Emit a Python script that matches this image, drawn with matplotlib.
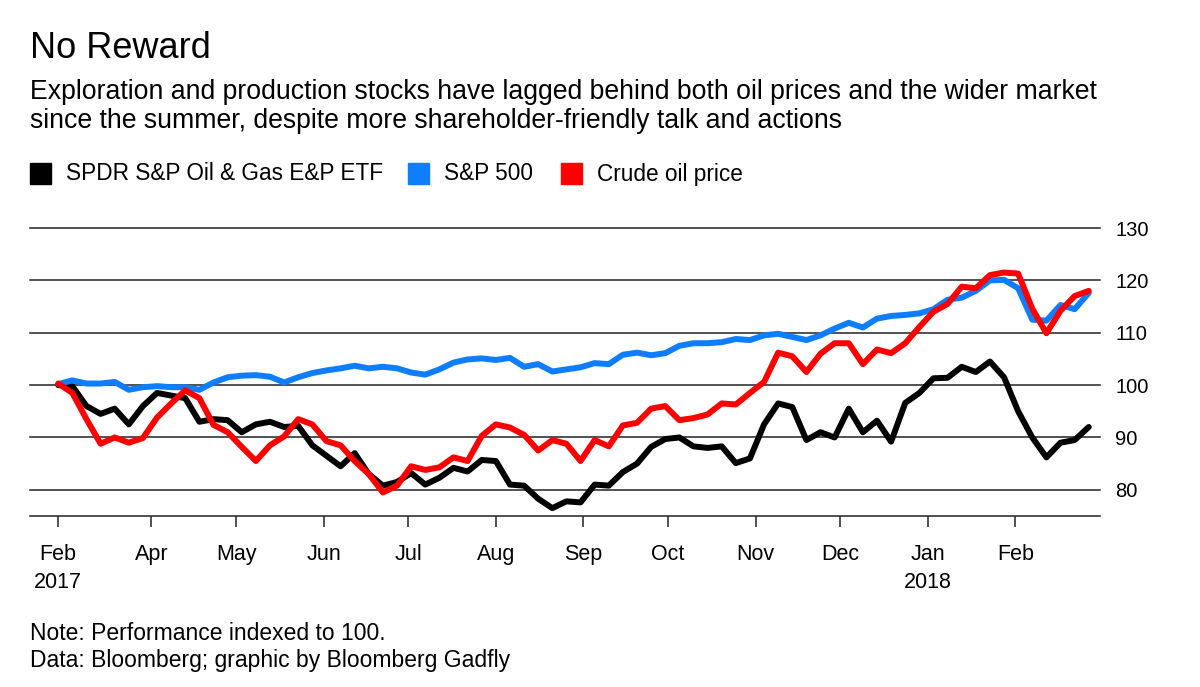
import numpy as np
import pandas as pd
import matplotlib
matplotlib.use("Agg")
import matplotlib.pyplot as plt
from matplotlib.patches import Rectangle

plt.rcParams["font.family"] = ["Liberation Sans", "DejaVu Sans"]

# one reading every 5 days, 27 Feb 2017 -> 27 Feb 2018
dates = pd.date_range("2017-02-27", "2018-02-27", freq="5D")

etf = [100, 99.8, 96, 94.5, 95.5, 92.5, 96, 98.5, 98, 97.5,
       93, 93.5, 93.3, 91, 92.5, 93, 92, 92.2, 88.5, 86.5,
       84.5, 87, 83, 80.8, 81.5, 83.2, 81, 82.3, 84.2, 83.5,
       85.7, 85.5, 81, 80.8, 78.3, 76.5, 77.8, 77.6, 81, 80.8,
       83.4, 85, 88.2, 89.7, 90, 88.3, 88, 88.3, 85.1, 86,
       92.5, 96.5, 95.8, 89.5, 91, 90, 95.5, 91, 93.2, 89.2,
       96.6, 98.5, 101.3, 101.4, 103.5, 102.5, 104.5, 101.5, 95, 90,
       86.2, 89, 89.5, 92]

spx = [100.2, 100.9, 100.3, 100.3, 100.6, 99.1, 99.6, 99.8, 99.6, 99.6,
       99.1, 100.5, 101.5, 101.8, 101.9, 101.6, 100.5, 101.5, 102.3, 102.8,
       103.2, 103.7, 103.2, 103.5, 103.2, 102.4, 102, 103, 104.3, 104.9,
       105.1, 104.8, 105.2, 103.5, 104, 102.6, 103, 103.4, 104.2, 104,
       105.8, 106.2, 105.7, 106.1, 107.5, 108, 108, 108.2, 108.8, 108.6,
       109.5, 109.8, 109.2, 108.6, 109.5, 110.8, 111.9, 111, 112.7, 113.2,
       113.4, 113.7, 114.5, 116.3, 116.7, 118, 120, 120.1, 118.5, 112.5,
       112.3, 115.3, 114.5, 117.6]

crude = [100.3, 98.5, 93.5, 88.8, 90, 89, 89.9, 93.8, 96.5, 99,
         97.5, 92.4, 91, 88.2, 85.5, 88.5, 90.2, 93.5, 92.5, 89.3,
         88.5, 85.5, 83, 79.5, 80.8, 84.5, 83.8, 84.3, 86.2, 85.5,
         90.3, 92.5, 91.9, 90.5, 87.5, 89.5, 88.8, 85.5, 89.5, 88.3,
         92.3, 92.8, 95.5, 96, 93.3, 93.7, 94.4, 96.5, 96.3, 98.5,
         100.6, 106.2, 105.5, 102.5, 106, 108, 108, 104, 106.8, 106.1,
         108, 111.1, 114, 115.5, 118.8, 118.5, 121, 121.5, 121.3, 114.6,
         109.9, 114.2, 117, 118]

series_names = ["SPDR S&P Oil & Gas E&P ETF", "S&P 500", "Crude oil price"]
series_colors = ["#000000", "#0f7dff", "#ff0000"]

tick_dates = ["2017-02-27", "2017-04-01", "2017-05-01", "2017-06-01", "2017-07-01",
              "2017-08-01", "2017-09-01", "2017-10-01", "2017-11-01", "2017-12-01",
              "2018-01-01", "2018-02-01"]
tick_labels = ["Feb\n2017", "Apr", "May", "Jun", "Jul", "Aug", "Sep", "Oct",
               "Nov", "Dec", "Jan\n2018", "Feb"]
y_ticks = [80, 90, 100, 110, 120, 130]

fig = plt.figure(figsize=(12, 6.87), dpi=100)
ax = fig.add_axes([0.025, 0.2489, 0.8917, 0.4192])

for vals, col in zip([etf, spx, crude], series_colors):
    ax.plot(dates, vals, color=col, lw=4.3, solid_joinstyle="round",
            solid_capstyle="round", zorder=3)

for y in y_ticks:
    ax.axhline(y, color="#222222", lw=1.1, zorder=1, clip_on=False)

ax.set_ylim(75, 130)
ax.set_xlim(pd.Timestamp("2017-02-17"), pd.Timestamp("2018-03-03"))
ax.yaxis.tick_right()
ax.set_yticks(y_ticks)
ax.tick_params(axis="y", length=0, pad=11, labelsize=14.5)
ax.set_xticks(pd.to_datetime(tick_dates))
ax.set_xticklabels(tick_labels, ha="center", linespacing=1.45)
ax.tick_params(axis="x", length=8, width=1.1, pad=12, labelsize=15.5,
               direction="out", color="#222222")
for s in ["top", "left", "right"]:
    ax.spines[s].set_visible(False)
ax.spines["bottom"].set_color("#222222")
ax.spines["bottom"].set_linewidth(1.1)

fig.text(0.025, 1 - 48 / 687, "No Reward", fontsize=26, va="center", ha="left")
fig.text(0.025, 1 - 92 / 687, "Exploration and production stocks have lagged behind both oil prices and the wider market",
         fontsize=19.2, va="center", ha="left")
fig.text(0.025, 1 - 121 / 687, "since the summer, despite more shareholder-friendly talk and actions",
         fontsize=19.2, va="center", ha="left")

legend_x = [30, 408, 561]
for lx, name, col in zip(legend_x, series_names, series_colors):
    fig.patches.append(Rectangle((lx / 1200, 1 - 184 / 687), 21 / 1200, 21 / 687,
                                 transform=fig.transFigure, color=col, figure=fig))
    fig.text((lx + 36) / 1200, 1 - 174 / 687, name, fontsize=16.3, va="center", ha="left")

fig.text(0.025, 1 - 634 / 687, "Note: Performance indexed to 100.", fontsize=16.5, va="center")
fig.text(0.025, 1 - 661 / 687, "Data: Bloomberg; graphic by Bloomberg Gadfly", fontsize=16.5, va="center")

plt.savefig("out.png", dpi=100)
plt.close(fig)
